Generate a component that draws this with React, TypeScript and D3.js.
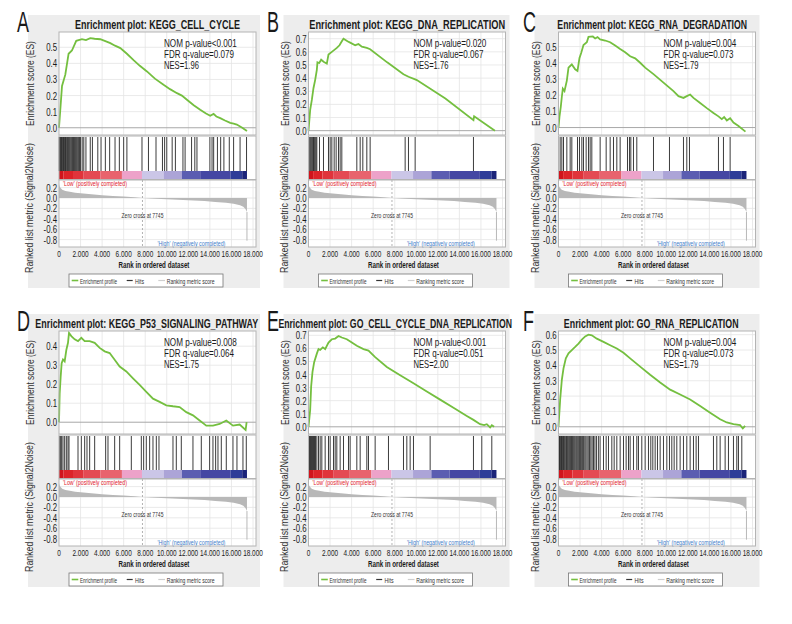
import React, { useLayoutEffect, useRef, useState } from "react";
import * as d3 from "d3";

// ---------------- DATA ----------------
const panelLetters = ["A", "B", "C", "D", "E", "F"];
const panelTitles = [
  "Enrichment plot: KEGG_CELL_CYCLE",
  "Enrichment plot: KEGG_DNA_REPLICATION",
  "Enrichment plot: KEGG_RNA_DEGRADATION",
  "Enrichment plot: KEGG_P53_SIGNALING_PATHWAY",
  "Enrichment plot: GO_CELL_CYCLE_DNA_REPLICATION",
  "Enrichment plot: GO_RNA_REPLICATION",
];
const nomP = ["NOM p-value<0.001", "NOM p-value=0.020", "NOM p-value=0.004", "NOM p-value=0.008", "NOM p-value<0.001", "NOM p-value=0.004"];
const fdrQ = ["FDR q-value=0.079", "FDR q-value=0.067", "FDR q-value=0.073", "FDR q-value=0.064", "FDR q-value=0.051", "FDR q-value=0.073"];
const nesText = ["NES=1.96", "NES=1.76", "NES=1.79", "NES=1.75", "NES=2.00", "NES=1.79"];

const esDomains = [
  [-0.045, 0.595],
  [-0.033, 0.751],
  [-0.046, 0.59],
  [-0.062, 0.48],
  [-0.055, 0.733],
  [-0.047, 0.624],
];
const esTicks = [
  [0, 0.1, 0.2, 0.3, 0.4, 0.5],
  [0, 0.1, 0.2, 0.3, 0.4, 0.5, 0.6, 0.7],
  [0, 0.1, 0.2, 0.3, 0.4, 0.5],
  [0, 0.1, 0.2, 0.3, 0.4],
  [0, 0.1, 0.2, 0.3, 0.4, 0.5, 0.6, 0.7],
  [0, 0.1, 0.2, 0.3, 0.4, 0.5, 0.6],
];

const curveA = [[0,0],[280,0.26],[585,0.33],[890,0.46],[1200,0.48],[1600,0.54],[2130,0.55],[2500,0.545],[2900,0.557],[3300,0.553],[3830,0.55],[4300,0.538],[4760,0.526],[5200,0.51],[5690,0.495],[6300,0.46],[6920,0.42],[7500,0.385],[8160,0.35],[8900,0.305],[9700,0.267],[10300,0.24],[10950,0.215],[11400,0.2],[11870,0.174],[12500,0.14],[13100,0.112],[13600,0.09],[14030,0.075],[14340,0.086],[14600,0.07],[14960,0.06],[15400,0.045],[15890,0.03],[16200,0.025],[16500,0.02],[17000,0.0],[17440,-0.02]];
const curveB = [[0,0],[155,0.158],[310,0.234],[460,0.323],[620,0.387],[773,0.463],[830,0.52],[1000,0.515],[1175,0.54],[1400,0.525],[1700,0.51],[1855,0.58],[2165,0.6],[2400,0.615],[2628,0.63],[2876,0.65],[3092,0.68],[3247,0.7],[3618,0.68],[3865,0.67],[4329,0.65],[4484,0.655],[4638,0.66],[4947,0.64],[5411,0.63],[5720,0.62],[7300,0.52],[8813,0.43],[9276,0.41],[9895,0.39],[10050,0.385],[12700,0.245],[15306,0.08],[15368,0.11],[17300,0.0]];
const curveC = [[0,0],[93,0.069],[216,0.13],[309,0.19],[400,0.24],[556,0.225],[773,0.29],[928,0.37],[1082,0.38],[1237,0.39],[1546,0.36],[1762,0.35],[1948,0.43],[2103,0.46],[2319,0.51],[2628,0.527],[2783,0.56],[3185,0.5625],[3401,0.55],[3618,0.558],[3865,0.544],[4329,0.5375],[4793,0.527],[5257,0.506],[5720,0.485],[6184,0.465],[6648,0.44],[7112,0.427],[7576,0.4],[8040,0.37],[8813,0.33],[9740,0.277],[10668,0.225],[11132,0.194],[11596,0.183],[11905,0.194],[12214,0.204],[12523,0.183],[13142,0.152],[13760,0.12],[14378,0.09],[14842,0.069],[15151,0.052],[15368,0.065],[15615,0.044],[15924,0.058],[16233,0.031],[16700,0.01],[17347,-0.025]];
const curveD = [[0,0],[62,0.151],[155,0.24],[247,0.31],[371,0.33],[526,0.32],[680,0.38],[835,0.418],[928,0.47],[1144,0.453],[1453,0.436],[1763,0.427],[2072,0.444],[2381,0.427],[2845,0.427],[3309,0.418],[3773,0.391],[4236,0.373],[4700,0.364],[5164,0.329],[5628,0.293],[6246,0.267],[6865,0.231],[7483,0.196],[8101,0.16],[8720,0.124],[9338,0.107],[9957,0.089],[10575,0.084],[11193,0.08],[11812,0.053],[12430,0.036],[13048,0.009],[13667,-0.018],[14285,-0.018],[14904,-0.009],[15522,0.009],[16140,-0.018],[16759,-0.012],[17316,-0.041],[17409,0.0]];
const curveE = [[0,0],[155,0.13],[247,0.31],[371,0.42],[526,0.495],[773,0.56],[928,0.595],[1082,0.588],[1330,0.608],[1546,0.595],[1855,0.645],[2165,0.67],[2474,0.675],[2783,0.695],[3092,0.683],[3556,0.67],[4020,0.645],[4484,0.62],[5102,0.595],[5566,0.583],[6184,0.533],[7267,0.458],[8504,0.395],[9740,0.333],[10977,0.27],[12214,0.208],[13451,0.145],[14688,0.083],[15306,0.053],[15924,0.02],[16295,0.0125],[16543,0.02],[16852,-0.005],[17007,0.0125],[17223,0.0]];
const curveF = [[0,0],[155,0.178],[309,0.306],[464,0.381],[680,0.446],[928,0.478],[1237,0.499],[1546,0.52],[1855,0.542],[2165,0.568],[2474,0.589],[2783,0.6],[3092,0.596],[3556,0.574],[4175,0.553],[4793,0.531],[5411,0.51],[6030,0.482],[6648,0.446],[7576,0.392],[8504,0.339],[9431,0.289],[10359,0.242],[11287,0.21],[12214,0.178],[13142,0.135],[14069,0.092],[14997,0.049],[15615,0.028],[16233,0.017],[16852,0.011],[17100,-0.011],[17316,0.006]];
const curves = [curveA, curveB, curveC, curveD, curveE, curveF];

const hitsA = [20,60,110,160,230,290,350,420,480,540,600,660,730,800,870,950,1020,1100,1180,1260,1350,1430,1520,1610,1700,1800,1900,2000,2150,2300,2500,2900,3100,3600,3900,4300,4700,5200,5600,6000,6300,7700,8300,9000,9600,9800,10000,10500,10800,11500,11700,12300,12600,12800,14000,14200,14350,14700,15000,15300,15800,16200,16800,17400];
const hitsB = [0,60,155,230,309,390,464,540,618,700,773,1020,1391,1855,2010,2165,2381,2566,2783,2937,3092,4484,4793,5040,5411,5720,8967,9276,9895,15306];
const hitsC = [155,309,464,773,1082,1237,1762,1948,2165,2319,2566,2783,2937,3092,3865,4422,4793,5102,5411,5720,6401,6586,6710,6957,7266,8813,10297,11596,11905,12152,14842,15306,15924];
const hitsD = [62,155,247,371,526,680,835,928,1763,2072,2381,2597,2845,3309,4329,4545,5164,5628,6710,7638,7854,8101,8411,8720,9029,9276,10575,10884,11348,12430,13203,13976,14285,14533,14750,15059,15522,16140,16512,17069,17378];
const hitsE = [0,93,186,278,371,464,557,649,773,928,1082,1237,1546,1855,2010,2319,2474,2628,2937,3247,3711,3865,4484,4793,5411,5566,6184,7421,8813,9122,9431,9740,11287,15306,16079,17007];
const hitsF = [0,40,90,150,210,280,340,400,470,530,600,680,750,820,900,980,1050,1130,1200,1290,1370,1450,1530,1620,1700,1790,1880,1960,2050,2150,2240,2330,2440,2540,2650,2760,2880,3000,3120,3250,3380,3520,3700,3860,4174,4422,4638,4947,5164,5411,5720,6030,6277,6494,6648,6957,7266,7421,7730,8040,8349,8565,8751,8967,9184,9431,9740,10050,10297,10513,10730,10977,11286,11595,11905,12214,12523,12770,12987,14378,14688,14997,15461,15770,16234,16543,16698,17007];
const hitsAll = [hitsA, hitsB, hitsC, hitsD, hitsE, hitsF];

// ranked list metric (Signal2Noise), shared dataset
const metricRank = [0,60,150,300,600,1000,1500,2000,3000,4000,5000,6000,7000,7745,8500,9500,10500,11500,12500,13500,14500,15500,16200,16800,17100,17300,17420,17440];
const metricVal = [0.27,0.22,0.19,0.16,0.135,0.12,0.1,0.09,0.07,0.055,0.04,0.028,0.012,0,-0.01,-0.02,-0.03,-0.04,-0.05,-0.06,-0.075,-0.09,-0.11,-0.14,-0.17,-0.21,-0.26,-0.27];
const metricSpikeMin = -0.82;
const zeroCross = 7745;
const lastRank = 17440;

// heat-map color bar bands
const bandStarts = [0,430,1300,2290,3830,5840,7700,9700,11400,13100,15900,17000];
const bandColors = ["#d0141c","#dc2329","#e0343b","#e44a53","#e8636d","#eda2c9","#cbc6e7","#aca4d7","#5b5db1","#4547a3","#2e3d98","#1b2479"];

const xTickVals = [0,2000,4000,6000,8000,10000,12000,14000,16000,18000];
const xTickLabels = ["0","2.000","4.000","6.000","8.000","10.000","12.000","14.000","16.000","18.000"];
const rankTickVals = [0.2,0,-0.2,-0.4,-0.6,-0.8];
const rankTickLabels = ["0.2","0.0","-0.2","-0.4","-0.6","-0.8"];

// ---------------- LAYOUT (styles) ----------------
const COL_LEFT = [59, 308.5, 558.5];
const ROW_TOP = [32, 331];
const PW = 197;
const XSPAN = 194;
const letterX = [17, 267, 523];
const bgLeftOff = [-31, -25, -24];
const ylabOff = [-25, -20, -19];
const titleCenterOff = [98.5, 98.7, 93.7, 87.7, 86.7, 92.7];
const titleLen = [165, 196, 190, 223, 234, 175];

const FONT = "'Liberation Sans', Arial, sans-serif";
const GREEN = "#74bf3f";

function Txt(props: any) {
  const { x, y, s = 11, sx = 1, anchor = "start", w = 400, fill = "#1a1a1a", rot = 0, len, children } = props;
  const ref = useRef<SVGTextElement>(null);
  const [k, setK] = useState(1);
  useLayoutEffect(() => {
    if (len && ref.current) {
      const wd = ref.current.getComputedTextLength();
      if (wd > 0) setK(len / wd);
    }
  }, [len, children, s]);
  const scaleX = len ? k : sx;
  return (
    <text
      ref={ref}
      transform={`translate(${x},${y}) rotate(${rot}) scale(${scaleX},1)`}
      fontSize={s}
      textAnchor={anchor}
      fontWeight={w}
      fill={fill}
      fontFamily={FONT}
    >
      {children}
    </text>
  );
}

function Panel({ i }: { i: number }) {
  const col = i % 3;
  const row = Math.floor(i / 3);
  const L = COL_LEFT[col];
  const T = ROW_TOP[row];
  const R = L + PW;
  const x = d3.scaleLinear().domain([0, 18000]).range([L, L + XSPAN]);
  const yE = d3.scaleLinear().domain(esDomains[i]).range([T + 103, T]);
  const yR = d3.scaleLinear().domain([-0.942, 0.346]).range([T + 215, T + 148]);
  const line = d3.line<number[]>().x((d) => x(d[0])).y((d) => yE(d[1]));
  const area = d3
    .area<number>()
    .x((d, k) => x(metricRank[k]))
    .y0(yR(0))
    .y1((d) => yR(d));
  const zx = x(zeroCross);
  const grid = "#e4e4e4";
  const border = "#b4b4b4";
  const bgL = L + bgLeftOff[col];
  return (
    <g>
      <rect x={bgL} y={T - 17} width={R + 4 - bgL} height={273} fill="#ededed" />
      <Txt x={letterX[col]} y={T} s={29} sx={0.62}>{panelLetters[i]}</Txt>
      <Txt x={L + titleCenterOff[i]} y={T - 3.5} s={12} w={700} anchor="middle" len={titleLen[i]}>{panelTitles[i]}</Txt>
      {/* plot white area */}
      <rect x={L} y={T} width={PW} height={215} fill="#fff" />
      {/* ES grid */}
      {xTickVals.slice(1).map((v) => (
        <line key={"gx" + v} x1={x(v)} x2={x(v)} y1={T} y2={T + 103} stroke={grid} strokeWidth={0.8} />
      ))}
      {esTicks[i].map((v) => (
        <line key={"gy" + v} x1={L} x2={R} y1={yE(v)} y2={yE(v)} stroke={v === 0 ? "#a8a8a8" : grid} strokeWidth={v === 0 ? 1 : 0.8} />
      ))}
      {esTicks[i].map((v) => (
        <Txt key={"ty" + v} x={L - 2} y={yE(v) + 4} s={11.5} sx={0.68} anchor="end">{v.toFixed(1)}</Txt>
      ))}
      <path d={line(curves[i] as any) || ""} fill="none" stroke={GREEN} strokeWidth={1.8} />
      <Txt x={L + 105} y={T + 15} s={11} len={73}>{nomP[i]}</Txt>
      <Txt x={L + 105} y={T + 26.2} s={11} len={70}>{fdrQ[i]}</Txt>
      <Txt x={L + 105} y={T + 37.4} s={11} len={35}>{nesText[i]}</Txt>
      <rect x={L} y={T} width={PW} height={103} fill="none" stroke={border} strokeWidth={1} />
      {/* hits */}
      {hitsAll[i].map((h, k) => (
        <line key={"h" + k} x1={x(h)} x2={x(h)} y1={T + 105} y2={T + 139} stroke="#262626" strokeWidth={0.9} />
      ))}
      {bandStarts.map((b, k) => {
        const e = k < bandStarts.length - 1 ? bandStarts[k + 1] : lastRank;
        return <rect key={"b" + k} x={x(b)} y={T + 139} width={x(e) - x(b)} height={8} fill={bandColors[k]} />;
      })}
      <rect x={L} y={T + 104} width={PW} height={43.5} fill="none" stroke={border} strokeWidth={1} />
      {/* ranked list */}
      {xTickVals.slice(1).map((v) => (
        <line key={"rgx" + v} x1={x(v)} x2={x(v)} y1={T + 148} y2={T + 215} stroke={grid} strokeWidth={0.8} />
      ))}
      {rankTickVals.map((v) => (
        <line key={"rgy" + v} x1={L} x2={R} y1={yR(v)} y2={yR(v)} stroke={grid} strokeWidth={0.8} />
      ))}
      <path d={area(metricVal) || ""} fill="#b8b8b8" />
      <line x1={x(lastRank)} x2={x(lastRank)} y1={yR(-0.27)} y2={yR(metricSpikeMin)} stroke="#b8b8b8" strokeWidth={1} />
      <line x1={zx} x2={zx} y1={T + 148} y2={T + 215} stroke="#a0a0a0" strokeWidth={0.8} strokeDasharray="2,2" />
      <Txt x={L + 4} y={T + 154} s={8} fill="#e2202c" len={64}>'Low' (positively completed)</Txt>
      <Txt x={zx} y={T + 186} s={7.5} anchor="middle" fill="#333" len={42}>Zero cross at 7745</Txt>
      <Txt x={L + 98.5} y={T + 214} s={8} fill="#3d7cc9" len={68}>'High' (negatively completed)</Txt>
      <rect x={L} y={T + 148} width={PW} height={67} fill="none" stroke={border} strokeWidth={1} />
      {rankTickVals.map((v, k) => (
        <Txt key={"rt" + v} x={L - 2} y={yR(v) + 4} s={11.5} sx={0.68} anchor="end">{rankTickLabels[k]}</Txt>
      ))}
      {xTickVals.map((v, k) => (
        <Txt key={"xt" + v} x={x(v)} y={T + 225} s={9.5} sx={0.68} anchor="middle">{xTickLabels[k]}</Txt>
      ))}
      <Txt x={L + 95} y={T + 236} s={9.5} w={700} anchor="middle" len={71}>Rank in ordered dataset</Txt>
      <Txt x={L + ylabOff[col]} y={T + 51.5} s={10.5} rot={-90} anchor="middle" fill="#333" len={85}>Enrichment score (ES)</Txt>
      <Txt x={L + ylabOff[col] - 1} y={T + 176} s={10.5} rot={-90} anchor="middle" fill="#333" len={130}>Ranked list metric (Signal2Noise)</Txt>
      {/* legend */}
      <rect x={L + 10} y={T + 242} width={154} height={13} fill="#fff" stroke="#777" strokeWidth={0.8} />
      <line x1={L + 12.7} x2={L + 19.3} y1={T + 248.5} y2={T + 248.5} stroke={GREEN} strokeWidth={1.6} />
      <Txt x={L + 21} y={T + 251.5} s={8} fill="#333" len={37}>Enrichment profile</Txt>
      <line x1={L + 67.7} x2={L + 73.7} y1={T + 248.5} y2={T + 248.5} stroke="#333" strokeWidth={1.2} />
      <Txt x={L + 76} y={T + 251.5} s={8} fill="#333" len={9}>Hits</Txt>
      <line x1={L + 99.3} x2={L + 106} y1={T + 248.5} y2={T + 248.5} stroke="#cfcfcf" strokeWidth={1.2} />
      <Txt x={L + 107.7} y={T + 251.5} s={8} fill="#333" len={48}>Ranking metric score</Txt>
    </g>
  );
}

export default function App() {
  return (
    <svg width={792} height={624} style={{ position: "absolute", left: 0, top: 0, background: "#fff" }}>
      <rect x={0} y={0} width={792} height={624} fill="#fff" />
      {[0, 1, 2, 3, 4, 5].map((i) => (
        <Panel key={i} i={i} />
      ))}
    </svg>
  );
}
